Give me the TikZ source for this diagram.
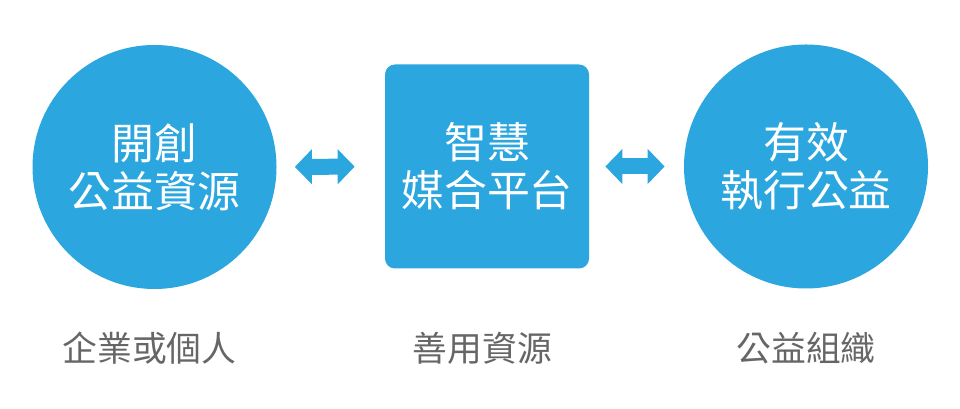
\documentclass[tikz,border=0pt]{standalone}
\usepackage{fontspec}
\newfontfamily\cjk{Noto Sans CJK TC}
\usepackage{tikz}
\usetikzlibrary{positioning,arrows.meta}
\definecolor{skyblue}{RGB}{43,166,223}
\definecolor{labelgray}{RGB}{102,102,102}

\begin{document}
\begin{tikzpicture}
\tikzstyle{round}=[circle, fill=skyblue, inner sep=0pt, minimum size=4.88cm, text=white, align=center, font=\cjk\fontsize{24.4}{27.2}\selectfont]
\tikzstyle{box}=[rectangle, rounded corners=0.2cm, fill=skyblue, inner sep=0pt, minimum size=4.08cm, text=white, align=center, font=\cjk\fontsize{24.4}{27.2}\selectfont]
\tikzstyle{caption}=[text=labelgray, font=\cjk\fontsize{19.8}{22}\selectfont]
\tikzstyle{twoway}=[{Triangle[length=0.34cm,width=0.68cm]}-{Triangle[length=0.34cm,width=0.68cm]}, line width=0.32cm, skyblue]

	\useasboundingbox (0,0) rectangle (19.2,8.18);

	\node[round] (open) at (3.09,4.84) []{開創\\公益資源};
	\node[box] (platform) at (9.74,4.85) []{智慧\\媒合平台};
	\node[round] (act) at (16.12,4.85) []{有效\\執行公益};

	\node[caption] (c_open) at (2.99,1.22) []{企業或個人};
	\node[caption] (c_platform) at (9.65,1.22) []{善用資源};
	\node[caption] (c_act) at (16.12,1.22) []{公益組織};

	\draw[twoway, shorten <=0.36cm, shorten >=0.6cm] (open.east) -- (platform.west);
	\draw[twoway, shorten <=0.32cm, shorten >=0.38cm] (platform.east) -- (act.west);

\end{tikzpicture}
\end{document}
